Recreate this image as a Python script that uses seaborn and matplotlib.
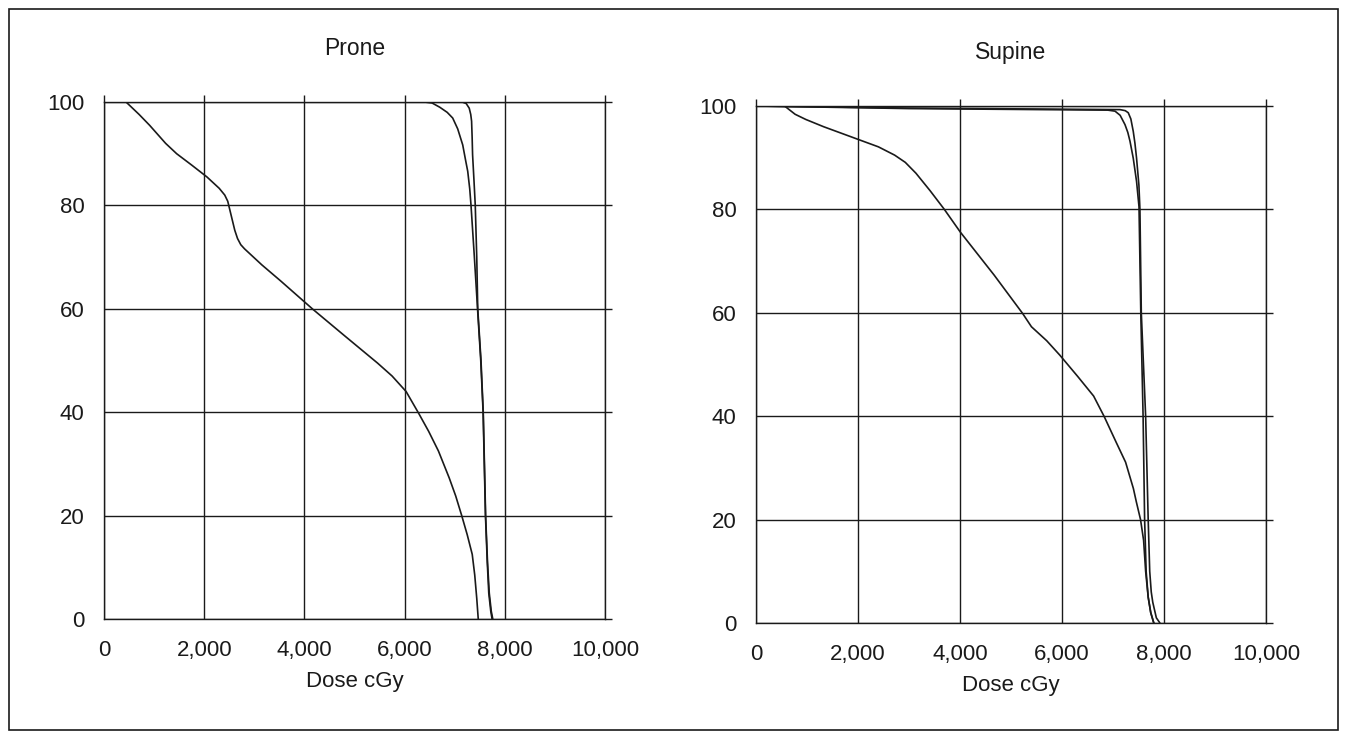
import numpy as np
import pandas as pd
import matplotlib
matplotlib.use('Agg')
import matplotlib.pyplot as plt
from matplotlib.patches import Rectangle
from matplotlib.ticker import FuncFormatter
import seaborn as sns

# Dose-volume curves (dose in cGy, volume in %)
# Prone
prone_main_dose = [0, 440, 700, 910, 1230, 1450, 1750, 2055, 2300, 2410, 2470, 2540,
                   2610, 2665, 2730, 2805, 3150, 3525, 4170, 4800, 5460, 5750,
                   6030, 6280, 6480, 6675, 6890, 7020, 7140, 7250, 7350, 7400,
                   7440, 7470]
prone_main_vol = [100, 100, 97.6, 95.5, 92, 90, 87.8, 85.5, 83.3, 82, 80.8, 78,
                  75.2, 73.6, 72.4, 71.6, 68.5, 65.4, 59.9, 54.8, 49.5, 47,
                  44, 39.8, 36.3, 32.5, 27.3, 23.8, 20, 16.3, 12.5, 8.5,
                  4, 0]

prone_wide_dose = [0, 6400, 6550, 6700, 6850, 6960, 7060, 7160, 7220, 7260, 7300,
                   7325, 7390, 7456, 7520, 7567, 7614, 7650, 7680, 7720, 7746]
prone_wide_vol = [100, 100, 99.8, 99, 98, 96.9, 94.8, 91.7, 88.6, 86.6, 83.2,
                  80.1, 70.4, 60, 50, 40, 20, 11, 5, 1.5, 0]

prone_sharp_dose = [0, 7150, 7230, 7290, 7320, 7337, 7348, 7357, 7385, 7410, 7440,
                    7460, 7525, 7570, 7617, 7655, 7690, 7730, 7760]
prone_sharp_vol = [100, 100, 99.7, 98.8, 97.6, 96.3, 93.2, 89.8, 84.8, 80.1, 70,
                   60, 50, 40, 20, 11, 5, 1.5, 0]

# Supine
supine_main_dose = [0, 560, 767, 976, 1324, 1986, 2400, 2718, 2927, 3136, 3415, 3693,
                    4007, 4669, 5226, 5401, 5700, 5958, 6307, 6620, 6829, 7060,
                    7247, 7400, 7456, 7540, 7600, 7640, 7690, 7740, 7800]
supine_main_vol = [100, 100, 98.4, 97.4, 96, 93.6, 92.1, 90.5, 89.1, 87, 83.6, 80,
                   75.6, 67.3, 59.9, 57.3, 54.6, 51.8, 47.7, 43.9, 39.9, 35,
                   31.1, 26, 23.5, 20, 16, 10, 5, 2, 0]

supine_wide_dose = [0, 3000, 6900, 7040, 7140, 7235, 7290, 7333, 7397, 7462, 7510,
                    7545, 7590, 7620, 7650, 7690, 7740, 7800]
supine_wide_vol = [100, 99.5, 99.2, 99, 98.2, 96.4, 94.9, 93.2, 89.9, 85.4, 80.5,
                   60, 40, 20, 10, 5, 2, 0]

supine_sharp_dose = [0, 3000, 7137, 7240, 7299, 7350, 7397, 7430, 7462, 7508, 7528,
                     7555, 7640, 7690, 7720, 7750, 7780, 7850, 7920]
supine_sharp_vol = [100, 99.6, 99.3, 99.1, 98.7, 97.5, 95.1, 92.8, 89.9, 84.7, 80,
                    60, 40, 20, 10, 6, 4, 1, 0]

panel_titles = ['Prone', 'Supine']
x_ticks = [0, 2000, 4000, 6000, 8000, 10000]
y_ticks = [0, 20, 40, 60, 80, 100]


def build_frame(curves):
    rows = []
    for name, dose, vol in curves:
        for d, v in zip(dose, vol):
            rows.append({'curve': name, 'dose': d, 'volume': v})
    return pd.DataFrame(rows)


prone_df = build_frame([
    ('main', prone_main_dose, prone_main_vol),
    ('wide', prone_wide_dose, prone_wide_vol),
    ('sharp', prone_sharp_dose, prone_sharp_vol),
])
supine_df = build_frame([
    ('main', supine_main_dose, supine_main_vol),
    ('wide', supine_wide_dose, supine_wide_vol),
    ('sharp', supine_sharp_dose, supine_sharp_vol),
])

sns.set_theme(style='white')
plt.rcParams['font.family'] = ['Liberation Sans', 'DejaVu Sans']
plt.rcParams['font.size'] = 16

fig = plt.figure(figsize=(13.5, 7.4), dpi=100)
ax1 = fig.add_axes([104 / 1350, 1 - 619 / 740, 501 / 1350, 517 / 740])
ax2 = fig.add_axes([756 / 1350, 1 - 623 / 740, 510 / 1350, 517 / 740])

ink = '#1a1a1a'
for ax, df, title in zip([ax1, ax2], [prone_df, supine_df], panel_titles):
    sns.lineplot(data=df, x='dose', y='volume', units='curve', estimator=None,
                 sort=False, color=ink, linewidth=1.2, ax=ax, legend=False)
    ax.set_xlim(0, 10000)
    ax.set_ylim(0, 100)
    ax.set_xticks(x_ticks)
    ax.set_yticks(y_ticks)
    ax.xaxis.set_major_formatter(FuncFormatter(lambda v, p: f'{int(v):,}'))
    ax.grid(True, color=ink, linewidth=1.0)
    ax.set_axisbelow(True)
    for sp in ax.spines.values():
        sp.set_visible(True)
        sp.set_color(ink)
        sp.set_linewidth(1.0)
    ax.tick_params(axis='both', which='major', direction='out', length=5,
                   width=1.0, color=ink, labelsize=16, labelcolor=ink,
                   top=True, right=True, labeltop=False, labelright=False)
    ax.tick_params(axis='x', pad=10)
    ax.tick_params(axis='y', pad=9)
    ax.set_title(title, fontsize=16.5, color=ink, pad=34)
    ax.set_xlabel('Dose cGy', fontsize=16, color=ink, labelpad=7)
    ax.set_ylabel('')

# outer frame around the whole figure
fig.patches.append(Rectangle((9 / 1350, 1 - 730 / 740), 1329 / 1350, 721 / 740,
                             transform=fig.transFigure, fill=False,
                             edgecolor=ink, linewidth=1.2))

fig.savefig('out.png', dpi=100, facecolor='white')
